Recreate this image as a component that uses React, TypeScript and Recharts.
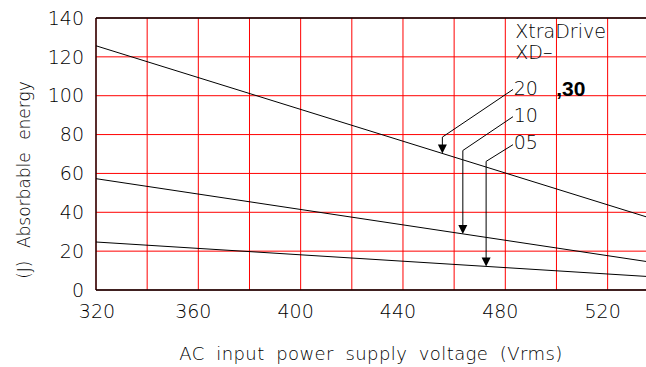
import { LineChart, Line, XAxis, YAxis, CartesianGrid, ReferenceLine, ReferenceDot, Label } from "recharts";

const voltage = [320, 535];
const xd2030 = [125.7, 37.7];
const xd10 = [57.3, 14.7];
const xd05 = [24.7, 7.0];

const xTicks = [320, 340, 360, 380, 400, 420, 440, 460, 480, 500, 520];
const yTicks = [0, 20, 40, 60, 80, 100, 120, 140];

const data = voltage.map((v, i) => ({ v, xd2030: xd2030[i], xd10: xd10[i], xd05: xd05[i] }));

// leader callouts: label start, elbow x/y, series the arrow lands on
const callouts = [
  { text: "20", tx: 483.3, ty: 104.1, fromY: 103.2, x: 455.4, elbowY: 78.7, series: xd2030 },
  { text: "10", tx: 483.3, ty: 90.2, fromY: 89.2, x: 463.4, elbowY: 71.8, series: xd10 },
  { text: "05", tx: 483.3, ty: 76.1, fromY: 74.8, x: 472.5, elbowY: 66.2, series: xd05 },
];

const FONT = "'DejaVu Sans', sans-serif";
const INK = "#000";
const LIGHT = 200;

function valueAt(series: number[], x: number) {
  const t = (x - voltage[0]) / (voltage[1] - voltage[0]);
  return series[0] + (series[1] - series[0]) * t;
}

const textShape = (txt: string, size = 19, weight: number | string = LIGHT, family = FONT) => (p: any) => (
  <text x={p.cx} y={p.cy} fontSize={size} fontFamily={family} fontWeight={weight} fill={INK} dominantBaseline="central">
    {txt}
  </text>
);

const arrowShape = (p: any) => (
  <path d={`M${p.cx},${p.cy} L${p.cx - 4.5},${p.cy - 9} L${p.cx + 4.5},${p.cy - 9} Z`} fill="#000" />
);

const XTick = (p: any) => {
  const v = p.payload.value;
  if (v % 40 !== 0) return null;
  return (
    <text x={p.x + (v === 320 ? 1 : -5)} y={p.y} dy="0.71em" textAnchor="middle" fontSize={19} fontFamily={FONT} fontWeight={LIGHT} fill={INK}>
      {v}
    </text>
  );
};

const YTitle = (props: any) => {
  const vb = props.viewBox;
  const x = vb.x + 30;
  const y = vb.y + vb.height / 2 + 26;
  return (
    <text
      x={x}
      y={y}
      transform={`rotate(-90, ${x}, ${y})`}
      textAnchor="middle"
      fontSize={17}
      fontFamily={FONT}
      fontWeight={LIGHT}
      fill={INK}
      style={{ wordSpacing: 7 }}
    >
      (J) Absorbable energy
    </text>
  );
};

export default function App() {
  return (
    <div style={{ position: "fixed", left: 0, top: 0, background: "#fff" }}>
      <LineChart width={646} height={367} data={data} margin={{ top: 18, right: 0, left: 0, bottom: 47 }}>
        <CartesianGrid stroke="#ff0000" strokeWidth={1} verticalValues={xTicks} />
        <XAxis
          dataKey="v"
          type="number"
          domain={[320, 535]}
          ticks={xTicks}
          allowDataOverflow
          height={30}
          tickLine={false}
          tickSize={0}
          tickMargin={15}
          tick={XTick}
          axisLine={{ stroke: "#000", strokeWidth: 1.3 }}
        >
          <Label
            value="AC input power supply voltage (Vrms)"
            position="insideBottom"
            offset={-40}
            style={{ fontSize: 18, fontFamily: FONT, fontWeight: LIGHT, fill: INK, letterSpacing: 0.4, wordSpacing: 5.5 }}
          />
        </XAxis>
        <YAxis
          type="number"
          domain={[0, 140]}
          ticks={yTicks}
          width={96}
          tickLine={false}
          tickSize={0}
          tickMargin={12}
          tick={{ fontSize: 19, fontFamily: FONT, fontWeight: LIGHT, fill: INK }}
          axisLine={{ stroke: "#000", strokeWidth: 1.3 }}
        >
          <Label position="insideLeft" content={YTitle} />
        </YAxis>
        <ReferenceLine y={140} stroke="#000" strokeWidth={1.3} />
        <Line dataKey="xd2030" stroke="#000" strokeWidth={1} dot={false} isAnimationActive={false} />
        <Line dataKey="xd10" stroke="#000" strokeWidth={1} dot={false} isAnimationActive={false} />
        <Line dataKey="xd05" stroke="#000" strokeWidth={1} dot={false} isAnimationActive={false} />
        {callouts.map((c) => {
          const tip = valueAt(c.series, c.x);
          return [
            <ReferenceLine key={c.text + "a"} segment={[{ x: 483, y: c.fromY }, { x: c.x, y: c.elbowY }]} stroke="#000" strokeWidth={1} />,
            <ReferenceLine key={c.text + "b"} segment={[{ x: c.x, y: c.elbowY }, { x: c.x, y: tip + 4 }]} stroke="#000" strokeWidth={1} />,
            <ReferenceDot key={c.text + "c"} x={c.x} y={tip} r={0} shape={arrowShape} />,
            <ReferenceDot key={c.text + "d"} x={c.tx} y={c.ty} r={0} shape={textShape(c.text)} />,
          ];
        })}
        <ReferenceDot x={483.9} y={133.5} r={0} shape={textShape("XtraDrive")} />
        <ReferenceDot x={483.9} y={122.4} r={0} shape={textShape("XD\u2013")} />
        <ReferenceDot x={499.9} y={103.8} r={0} shape={textShape(",30", 21, 700, "'Liberation Sans', Arial, sans-serif")} />
      </LineChart>
    </div>
  );
}
